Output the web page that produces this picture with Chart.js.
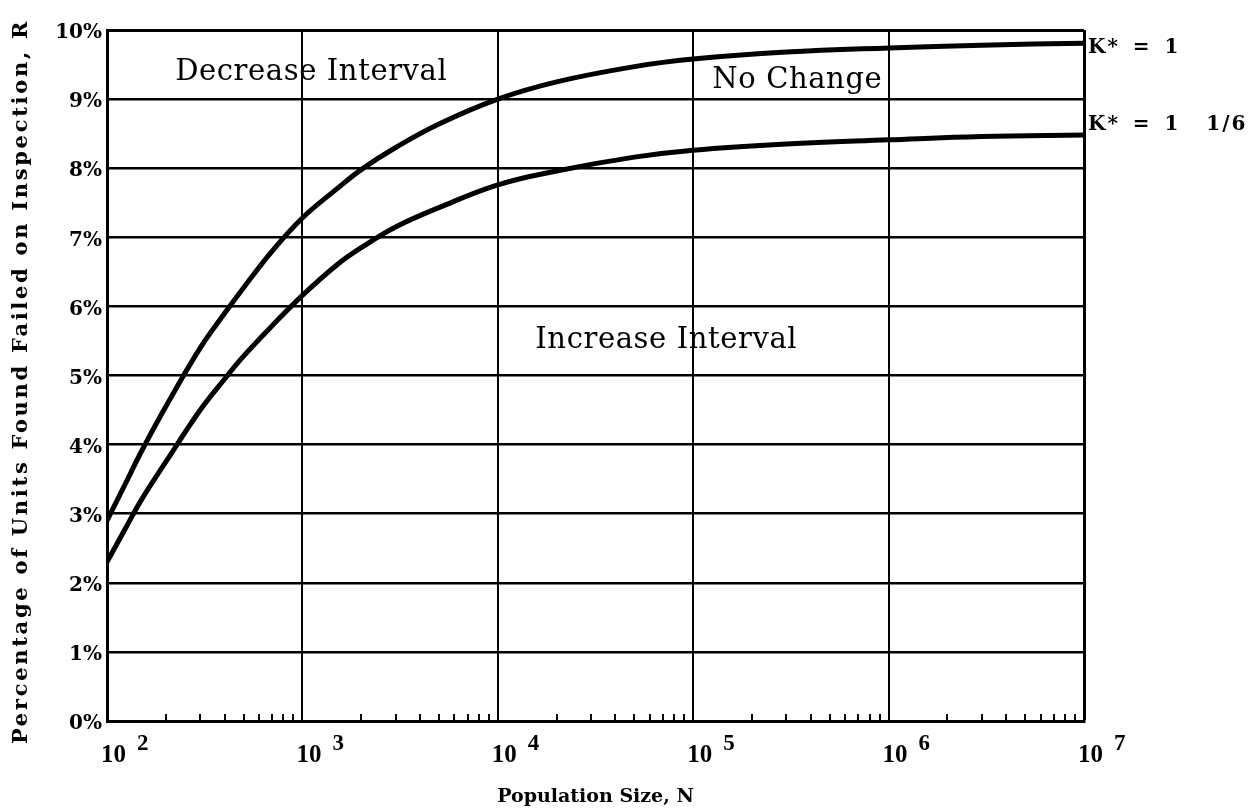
<!DOCTYPE html>
<html>
<head>
<meta charset="utf-8">
<script src="https://cdn.jsdelivr.net/npm/chart.js@4.4.1/dist/chart.umd.min.js"></script>
<style>
  html, body { margin: 0; padding: 0; background: #fff; }
  #wrap { width: 1258px; height: 811px; }
</style>
</head>
<body>
<div id="wrap"><canvas id="chart" width="1258" height="811"></canvas></div>
<script>
// population sizes where the two curves are sampled
var POP_N = [100, 125, 150, 200, 300, 400, 500, 700, 1e3, 1.5e3, 2e3, 3e3, 5e3, 1e4, 2e4, 5e4, 1e5, 3e5, 1e6, 3e6, 1e7];
// percent failed, K* = 1
var R_K1 = [2.9, 3.45, 3.9, 4.55, 5.4, 5.9, 6.27, 6.8, 7.28, 7.7, 7.98, 8.3, 8.64, 9.0, 9.25, 9.47, 9.58, 9.68, 9.74, 9.78, 9.81];
// percent failed, K* = 1 1/6
var R_K7_6 = [2.3, 2.8, 3.2, 3.75, 4.5, 4.95, 5.28, 5.72, 6.16, 6.6, 6.85, 7.15, 7.43, 7.76, 7.96, 8.16, 8.26, 8.35, 8.41, 8.46, 8.48];
var DECADE_EXP = [2, 3, 4, 5, 6, 7];
var MINOR_STEPS = [2, 3, 4, 5, 6, 7, 8, 9];
var CURVE_LABELS = ["K* = 1", "K* = 1  1/6"];
var REGION_TEXT = ["Decrease Interval", "No Change", "Increase Interval"];
var X_TITLE = "Population Size, N";
var Y_TITLE = "Percentage of Units Found Failed on Inspection, R";

// baseline anchor of each region name, in data units (N, R%)
var REGION_AT = [[1110, 9.28], [3.41e5, 9.16], [7.28e4, 5.40]];

var SERIF = '"DejaVu Serif", serif';

function isDecade(v) {
  var l = Math.log10(v);
  return Math.abs(l - Math.round(l)) < 1e-9;
}

var xTickValues = [];
DECADE_EXP.forEach(function (e, i) {
  xTickValues.push(Math.pow(10, e));
  if (i < DECADE_EXP.length - 1) {
    MINOR_STEPS.forEach(function (m) { xTickValues.push(m * Math.pow(10, e)); });
  }
});

function pts(ys) {
  return POP_N.map(function (n, i) { return { x: n, y: ys[i] }; });
}

var textPlugin = {
  id: "plotText",
  afterDraw: function (chart) {
    var ctx = chart.ctx, xs = chart.scales.x, ys = chart.scales.y, area = chart.chartArea;
    ctx.save();
    ctx.fillStyle = "#000";
    ctx.textBaseline = "alphabetic";

    // decade labels: 10 with a raised exponent
    DECADE_EXP.forEach(function (e) {
      var px = xs.getPixelForValue(Math.pow(10, e));
      ctx.textAlign = "left";
      ctx.font = 'bold 25px "Liberation Serif", serif';
      ctx.fillText("10", px - 6, area.bottom + 41);
      ctx.font = 'bold 23px "Liberation Serif", serif';
      ctx.fillText(String(e), px + 30, area.bottom + 29);
    });

    // region names
    ctx.font = "29px " + SERIF;
    ctx.letterSpacing = "0.6px";
    ctx.textAlign = "center";
    REGION_TEXT.forEach(function (t, i) {
      ctx.fillText(t, xs.getPixelForValue(REGION_AT[i][0]), ys.getPixelForValue(REGION_AT[i][1]));
    });

    // curve names at the right edge
    ctx.font = "bold 20px " + SERIF;
    ctx.letterSpacing = "2px";
    ctx.wordSpacing = "4px";
    ctx.textAlign = "left";
    var last = POP_N.length - 1;
    ctx.fillText(CURVE_LABELS[0], area.right + 4, ys.getPixelForValue(R_K1[last]) + 10);
    ctx.fillText(CURVE_LABELS[1], area.right + 4, ys.getPixelForValue(R_K7_6[last]) - 5);
    ctx.wordSpacing = "0px";

    // y axis title, rotated
    ctx.font = "bold 21px " + SERIF;
    ctx.letterSpacing = "2.7px";
    ctx.textAlign = "center";
    ctx.textBaseline = "middle";
    ctx.translate(22, (area.top + area.bottom) / 2 + 6);
    ctx.rotate(-Math.PI / 2);
    ctx.fillText(Y_TITLE, 0, 0);
    ctx.restore();
  }
};

new Chart(document.getElementById("chart"), {
  type: "line",
  data: {
    datasets: [
      { label: CURVE_LABELS[0], data: pts(R_K1), borderColor: "#000", borderWidth: 5, pointRadius: 0, tension: 0.4, fill: false },
      { label: CURVE_LABELS[1], data: pts(R_K7_6), borderColor: "#000", borderWidth: 5, pointRadius: 0, tension: 0.4, fill: false }
    ]
  },
  options: {
    responsive: false,
    animation: false,
    devicePixelRatio: 1,
    layout: { padding: { top: 30, right: 174, left: 0, bottom: 0 } },
    plugins: { legend: { display: false }, tooltip: { enabled: false } },
    scales: {
      x: {
        type: "logarithmic",
        min: 100, max: 1e7,
        afterFit: function (s) { s.height = 90; },
        afterBuildTicks: function (s) {
          s.ticks = xTickValues.map(function (v) { return { value: v, major: isDecade(v) }; });
        },
        ticks: { display: false, autoSkip: false },
        grid: {
          color: function (c) { return c.tick && isDecade(c.tick.value) ? "#000" : "rgba(0,0,0,0)"; },
          lineWidth: function (c) { return c.tick && c.tick.value >= 1e7 ? 3 : 2; },
          drawTicks: true,
          tickLength: -7,
          tickWidth: 2,
          tickColor: "#000"
        },
        border: { color: "#000", width: 3 },
        title: {
          display: true,
          text: X_TITLE,
          color: "#000",
          font: { family: SERIF, size: 19, weight: "bold" },
          padding: { top: 0, bottom: 3 }
        }
      },
      y: {
        min: 0, max: 10,
        afterFit: function (s) { s.width = 107; },
        ticks: {
          stepSize: 1,
          color: "#000",
          padding: 5,
          labelOffset: 3,
          font: { family: SERIF, size: 20, weight: "bold" },
          callback: function (v) { return v + "%"; }
        },
        grid: {
          color: "#000",
          lineWidth: function (c) { return c.tick && c.tick.value >= 10 ? 3 : 2.5; },
          drawTicks: false
        },
        border: { color: "#000", width: 3 },
        title: { display: false }
      }
    }
  },
  plugins: [textPlugin]
});
</script>
</body>
</html>
